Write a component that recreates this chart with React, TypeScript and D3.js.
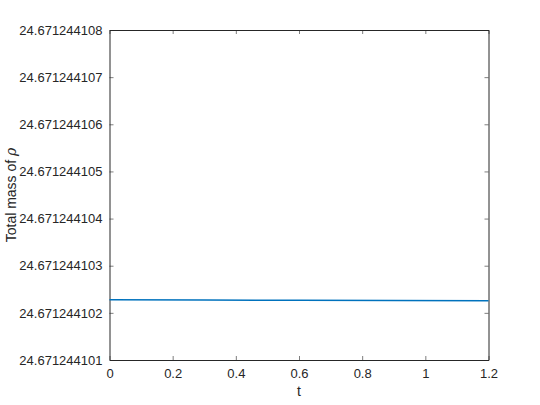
import { useRef, useEffect } from 'react';
import * as d3 from 'd3';

// time samples and total mass of rho (nearly constant, slight drift)
const tValues = [0, 0.3, 0.6, 0.9, 1.2];
const massValues = [
  24.6712441022760, 24.6712441022705, 24.6712441022655, 24.6712441022600, 24.6712441022550,
];
const xTicks = [0, 0.2, 0.4, 0.6, 0.8, 1, 1.2];
const yTicks = [
  24.671244101, 24.671244102, 24.671244103, 24.671244104,
  24.671244105, 24.671244106, 24.671244107, 24.671244108,
];
const xTickLabels = ['0', '0.2', '0.4', '0.6', '0.8', '1', '1.2'];
const yTickLabels = [
  '24.671244101', '24.671244102', '24.671244103', '24.671244104',
  '24.671244105', '24.671244106', '24.671244107', '24.671244108',
];

function MassChart() {
  const svgRef = useRef<SVGSVGElement | null>(null);
  const width = 540;
  const height = 405;

  useEffect(() => {
    const svg = d3.select(svgRef.current);
    svg.selectAll('*').remove();
    const margin = { top: 30, right: 51.5, bottom: 45, left: 109.5 };
    const font = '"Liberation Sans", Arial, sans-serif';

    const data = tValues.map((t, i) => ({ t, m: massValues[i] }));

    const x = d3
      .scaleLinear()
      .domain([0, 1.2])
      .range([margin.left, width - margin.right]);

    const y = d3
      .scaleLinear()
      .domain([yTicks[0], yTicks[yTicks.length - 1]])
      .range([height - margin.bottom, margin.top]);

    svg.append('rect')
      .attr('width', width)
      .attr('height', height)
      .attr('fill', '#fff');

    const tickColor = '#262626';
    const axisColor = '#262626';

    // x axis (bottom) with inward ticks
    const gx = svg.append('g')
      .attr('transform', `translate(0,${height - margin.bottom})`)
      .call(
        d3.axisBottom(x)
          .tickValues(xTicks)
          .tickSize(-4)
          .tickPadding(9)
          .tickFormat((_, i) => xTickLabels[i])
          .tickSizeOuter(0)
      );
    // x axis (top) ticks only
    const gxt = svg.append('g')
      .attr('transform', `translate(0,${margin.top})`)
      .call(
        d3.axisTop(x)
          .tickValues(xTicks)
          .tickSize(-4)
          .tickFormat(() => '')
          .tickSizeOuter(0)
      );
    // y axis left
    const gy = svg.append('g')
      .attr('transform', `translate(${margin.left},0)`)
      .call(
        d3.axisLeft(y)
          .tickValues(yTicks)
          .tickSize(-4)
          .tickPadding(7)
          .tickFormat((_, i) => yTickLabels[i])
          .tickSizeOuter(0)
      );
    // y axis right
    const gyr = svg.append('g')
      .attr('transform', `translate(${width - margin.right},0)`)
      .call(
        d3.axisRight(y)
          .tickValues(yTicks)
          .tickSize(-4)
          .tickFormat(() => '')
          .tickSizeOuter(0)
      );

    [gx, gxt, gy, gyr].forEach((g) => {
      g.select('.domain').attr('stroke', axisColor).attr('stroke-width', 1);
      g.selectAll('.tick line').attr('stroke', tickColor).attr('stroke-width', 0.6);
      g.selectAll('.tick text')
        .attr('fill', tickColor)
        .style('font-family', font)
        .style('font-size', '13px');
    });

    const line = d3
      .line<{ t: number; m: number }>()
      .x((d) => x(d.t))
      .y((d) => y(d.m));

    svg.append('path')
      .datum(data)
      .attr('fill', 'none')
      .attr('stroke', '#0072BD')
      .attr('stroke-width', 1.5)
      .attr('d', line);

    svg.append('text')
      .attr('x', (margin.left + width - margin.right) / 2)
      .attr('y', 396)
      .attr('text-anchor', 'middle')
      .attr('fill', tickColor)
      .style('font-family', font)
      .style('font-size', '14px')
      .text('t');

    const ylab = svg.append('text')
      .attr('transform', `translate(16,${(margin.top + height - margin.bottom) / 2}) rotate(-90)`)
      .attr('text-anchor', 'middle')
      .attr('fill', tickColor)
      .style('font-family', font)
      .style('font-size', '14px');
    ylab.append('tspan').text('Total mass of ');
    ylab.append('tspan').style('font-style', 'italic').style('font-family', '"DejaVu Serif", serif').text('ρ');
  }, []);

  return <svg ref={svgRef} width={width} height={height} style={{ display: 'block' }} />;
}

export default function App() {
  return (
    <div style={{ position: 'absolute', left: 0, top: 0 }}>
      <MassChart />
    </div>
  );
}
